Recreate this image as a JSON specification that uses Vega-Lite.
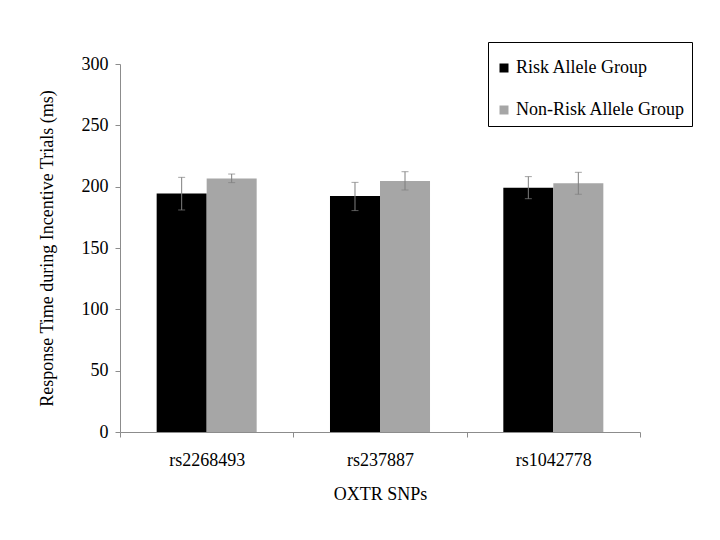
{
  "$schema": "https://vega.github.io/schema/vega-lite/v6.json",
  "width": 520,
  "height": 368,
  "autosize": {"type": "none"},
  "padding": {"left": 120, "top": 64, "right": 80, "bottom": 108},
  "background": "white",
  "config": {
    "view": {"stroke": null},
    "font": "Liberation Serif",
    "axis": {
      "labelFont": "Liberation Serif",
      "titleFont": "Liberation Serif",
      "labelFontSize": 18,
      "titleFontSize": 18,
      "titleFontWeight": "normal",
      "labelColor": "#000000",
      "titleColor": "#000000",
      "domainColor": "#8c8c8c",
      "tickColor": "#8c8c8c",
      "tickSize": 5,
      "grid": false
    },
    "legend": {
      "labelFont": "Liberation Serif",
      "labelFontSize": 18,
      "labelColor": "#000000"
    }
  },
  "data": {
    "values": [
      {"snp": "rs2268493", "group": "Risk Allele Group", "mean": 194.5, "lo": 181.0, "hi": 207.6},
      {"snp": "rs2268493", "group": "Non-Risk Allele Group", "mean": 206.7, "lo": 203.3, "hi": 210.3},
      {"snp": "rs237887", "group": "Risk Allele Group", "mean": 192.3, "lo": 180.5, "hi": 203.5},
      {"snp": "rs237887", "group": "Non-Risk Allele Group", "mean": 204.6, "lo": 197.3, "hi": 212.2},
      {"snp": "rs1042778", "group": "Risk Allele Group", "mean": 199.2, "lo": 190.2, "hi": 208.2},
      {"snp": "rs1042778", "group": "Non-Risk Allele Group", "mean": 202.7, "lo": 193.8, "hi": 211.7}
    ]
  },
  "layer": [
    {
      "mark": {"type": "bar"},
      "encoding": {
        "x": {
          "field": "snp",
          "type": "nominal",
          "sort": ["rs2268493", "rs237887", "rs1042778"],
          "scale": {"paddingInner": 0, "paddingOuter": 0},
          "axis": {
            "title": "OXTR SNPs",
            "labelAngle": 0,
            "tickBand": "extent",
            "labelPadding": 14,
            "titlePadding": 16
          }
        },
        "xOffset": {
          "field": "group",
          "type": "nominal",
          "sort": ["Risk Allele Group", "Non-Risk Allele Group"],
          "scale": {"paddingInner": 0, "paddingOuter": 0.733}
        },
        "y": {
          "field": "mean",
          "type": "quantitative",
          "scale": {"domain": [0, 300], "nice": false},
          "axis": {
            "title": "Response Time during Incentive Trials (ms)",
            "values": [0, 50, 100, 150, 200, 250, 300],
            "labelPadding": 7,
            "titlePadding": 25
          }
        },
        "color": {
          "field": "group",
          "type": "nominal",
          "scale": {
            "domain": ["Risk Allele Group", "Non-Risk Allele Group"],
            "range": ["#000000", "#a6a6a6"]
          },
          "legend": {
            "title": " ",
            "titleFontSize": 1,
            "titlePadding": 9,
            "orient": "none",
            "legendX": 368,
            "legendY": -22,
            "strokeColor": "#000000",
            "fillColor": "#ffffff",
            "padding": 7,
            "rowPadding": 24,
            "symbolType": "square",
            "symbolSize": 81,
            "symbolStrokeWidth": 0,
            "labelOffset": 3,
            "labelLimit": 400
          }
        }
      }
    },
    {
      "mark": {"type": "rule", "color": "#7f7f7f", "strokeWidth": 1},
      "encoding": {
        "x": {"field": "snp", "type": "nominal", "sort": ["rs2268493", "rs237887", "rs1042778"]},
        "xOffset": {"field": "group", "type": "nominal", "sort": ["Risk Allele Group", "Non-Risk Allele Group"]},
        "y": {"field": "lo", "type": "quantitative"},
        "y2": {"field": "hi"}
      }
    },
    {
      "mark": {"type": "tick", "color": "#7f7f7f", "size": 7, "thickness": 1},
      "encoding": {
        "x": {"field": "snp", "type": "nominal", "sort": ["rs2268493", "rs237887", "rs1042778"]},
        "xOffset": {"field": "group", "type": "nominal", "sort": ["Risk Allele Group", "Non-Risk Allele Group"]},
        "y": {"field": "lo", "type": "quantitative"}
      }
    },
    {
      "mark": {"type": "tick", "color": "#7f7f7f", "size": 7, "thickness": 1},
      "encoding": {
        "x": {"field": "snp", "type": "nominal", "sort": ["rs2268493", "rs237887", "rs1042778"]},
        "xOffset": {"field": "group", "type": "nominal", "sort": ["Risk Allele Group", "Non-Risk Allele Group"]},
        "y": {"field": "hi", "type": "quantitative"}
      }
    }
  ]
}
